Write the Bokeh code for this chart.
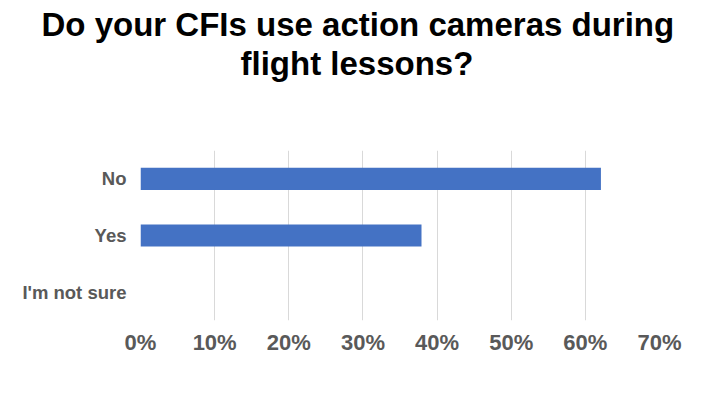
from bokeh.plotting import figure
from bokeh.models import FixedTicker, PrintfTickFormatter, Range1d, Title
from bokeh.embed import file_html
from bokeh.resources import INLINE

categories = ["I'm not sure", "Yes", "No"]
values = [0.0, 37.9, 62.1]
x_ticks = [0, 10, 20, 30, 40, 50, 60, 70]
title_lines = ["Do your CFIs use action cameras during", "flight lessons?"]

p = figure(
    y_range=categories,
    x_range=Range1d(0, 70),
    frame_width=519, frame_height=170,
    min_border_left=140, min_border_right=45,
    min_border_top=150, min_border_bottom=69,
    output_backend="svg", toolbar_location=None,
)
p.hbar(y=categories, right=values, left=0, height=0.39,
       fill_color="#4472C4", line_color=None)

def make_title(txt, offset, standoff):
    return Title(text=txt, align="left", offset=offset, standoff=standoff,
                 text_font="Liberation Sans", text_font_style="bold",
                 text_font_size="33px", text_color="#000000")

p.title.text = ""
# empty spacer between the frame and the title lines
p.add_layout(Title(text=" ", text_font_size="1px", standoff=66), "above")
p.add_layout(make_title(title_lines[1], 100, 0), "above")
p.add_layout(make_title(title_lines[0], -99, 0), "above")

p.outline_line_color = None
p.background_fill_color = "white"
p.border_fill_color = "white"

p.xaxis.ticker = FixedTicker(ticks=x_ticks)
p.xaxis.formatter = PrintfTickFormatter(format="%d%%")
p.xaxis.axis_line_color = None
p.xaxis.major_tick_line_color = None
p.xaxis.minor_tick_line_color = None
p.xaxis.major_label_text_font = "Liberation Sans"
p.xaxis.major_label_text_font_style = "bold"
p.xaxis.major_label_text_font_size = "22px"
p.xaxis.major_label_text_color = "#595959"
p.xaxis.major_label_standoff = 3

p.yaxis.axis_line_color = None
p.yaxis.major_tick_line_color = None
p.yaxis.minor_tick_line_color = None
p.yaxis.major_label_text_font = "Liberation Sans"
p.yaxis.major_label_text_font_style = "bold"
p.yaxis.major_label_text_font_size = "18.5px"
p.yaxis.major_label_text_color = "#595959"
p.yaxis.major_label_standoff = 8

p.xgrid.grid_line_color = "#d9d9d9"
p.xgrid.grid_line_width = 1
p.ygrid.grid_line_color = None

open("out.html", "w").write(file_html(p, INLINE))
